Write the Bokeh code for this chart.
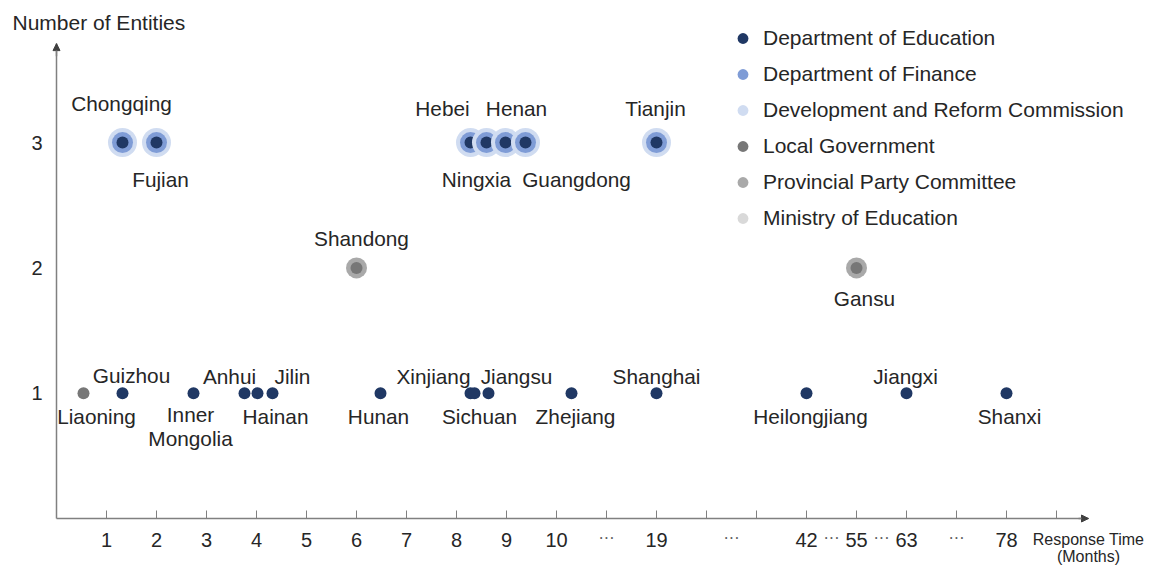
from bokeh.plotting import figure
from bokeh.models import (ColumnDataSource, FixedTicker, Label, LabelSet, Arrow,
                          NormalHead, Legend, LegendItem, Range1d)
from bokeh.core.properties import value
from bokeh.embed import file_html
from bokeh.resources import INLINE

# ---------------- data ----------------
provinces = ["Liaoning", "Guizhou", "Inner\nMongolia", "Anhui", "Hainan", "Jilin",
             "Hunan", "Xinjiang", "Sichuan", "Jiangsu", "Zhejiang", "Shanghai",
             "Heilongjiang", "Jiangxi", "Shanxi",
             "Chongqing", "Fujian", "Hebei", "Ningxia", "Henan", "Guangdong", "Tianjin",
             "Shandong", "Gansu"]
# position on the (broken) response-time axis
axis_pos = [0.54, 1.32, 2.74, 3.76, 4.02, 4.32, 6.48, 8.28, 8.36, 8.64, 10.3, 12, 15, 17, 19,
            1.32, 2.0, 8.28, 8.6, 8.98, 9.38, 12,
            6.0, 16]
entities = [1] * 15 + [3] * 7 + [2, 2]
EDU, FIN, DRC = "Department of Education", "Department of Finance", "Development and Reform Commission"
LOC, PPC, MOE = "Local Government", "Provincial Party Committee", "Ministry of Education"
agencies = ([[LOC]] + [[EDU]] * 14 + [[EDU, FIN, DRC]] * 7 + [[LOC, PPC]] * 2)

legend_names = [EDU, FIN, DRC, LOC, PPC, MOE]
tick_positions = list(range(1, 21))
tick_labels = ["1", "2", "3", "4", "5", "6", "7", "8", "9", "10",
               "", "19", "", "", "42", "55", "63", "", "78", ""]
ellipsis_pos = [11, 13.5, 15.5, 16.5, 18]

# ---------------- style / layout ----------------
agency_colors = {EDU: "#203864", FIN: "#7f9cd6", DRC: "#d0dcf1",
                 LOC: "#777777", PPC: "#a9a9a9", MOE: "#d9d9d9"}
ring_sizes = [12, 21, 29]
label_dx = [13, 9, -3, -15, 18, 20, -2, -37, 5, 28, 4, 0, 4, -1, 3,
            -1, 4, -28, -10, 11, 51, -1, 5, 8]
label_dy = [23, -18, 33, -17, 23, -17, 23, -17, 23, -17, 23, -17, 23, -17, 23,
            -39, 37, -34, 37, -34, 37, -34, -29, 31]
FONT = "Liberation Sans"
TXT = "#262626"
AX = "#808080"
W, H = 1151, 565
X0, XS = 56.0, 50.0      # pixel of x=0, pixels per unit
Y0, YS = 518.0, 125.3    # pixel of y=0, pixels per unit
X_END, Y_END = 20.64, 3.79

p = figure(width=W, height=H, output_backend="svg", toolbar_location=None, title=None,
           x_range=Range1d(-X0 / XS, (W - X0) / XS),
           y_range=Range1d(-(H - Y0) / YS, Y0 / YS),
           min_border=0, min_border_left=0, min_border_right=0,
           min_border_top=0, min_border_bottom=0)
p.outline_line_color = None
p.xgrid.visible = False
p.ygrid.visible = False
p.background_fill_color = "white"

# axes (drawn at the data origin)
p.xaxis.fixed_location = 0
p.yaxis.fixed_location = 0
p.xaxis.bounds = (0, X_END)
p.yaxis.bounds = (0, Y_END)
p.xaxis.ticker = FixedTicker(ticks=tick_positions)
p.xaxis.major_label_overrides = {t: l for t, l in zip(tick_positions, tick_labels)}
p.xaxis.major_tick_in = 8
p.xaxis.major_tick_out = 0
p.xaxis.minor_tick_line_color = None
p.xaxis.major_tick_line_color = AX
p.xaxis.axis_line_color = AX
p.xaxis.axis_line_width = 1.5
p.xaxis.major_label_standoff = 14
p.yaxis.ticker = FixedTicker(ticks=[1, 2, 3])
p.yaxis.major_tick_in = 0
p.yaxis.major_tick_out = 0
p.yaxis.minor_tick_line_color = None
p.yaxis.axis_line_color = AX
p.yaxis.axis_line_width = 1.5
p.yaxis.major_label_standoff = 14
for ax in (p.xaxis, p.yaxis):
    ax.major_label_text_font = FONT
    ax.major_label_text_font_size = "20px"
    ax.major_label_text_color = TXT

# arrows on axes
p.add_layout(Arrow(end=NormalHead(size=7, fill_color="#404040", line_color="#404040"),
                   x_start=X_END - 0.2, y_start=0, x_end=X_END, y_end=0,
                   line_color=AX, line_width=1.5))
p.add_layout(Arrow(end=NormalHead(size=7, fill_color="#404040", line_color="#404040"),
                   x_start=0, y_start=Y_END - 0.1, x_end=0, y_end=Y_END,
                   line_color=AX, line_width=1.5))

# stacked circles (drawn point by point, outer ring first)
xs, ys, sz, cl = [], [], [], []
for x, y, ags in zip(axis_pos, entities, agencies):
    for lvl in reversed(range(len(ags))):
        xs.append(x)
        ys.append(y)
        sz.append(ring_sizes[lvl])
        cl.append(agency_colors[ags[lvl]])
dot_src = ColumnDataSource(dict(x=xs, y=ys, size=sz, color=cl))
p.scatter(x="x", y="y", size="size", fill_color="color", line_color=None, source=dot_src)

# province labels
lab_src = ColumnDataSource(dict(x=axis_pos, y=entities, text=provinces, dx=label_dx, dy=label_dy))
p.text(x="x", y="y", text="text", x_offset="dx", y_offset="dy", source=lab_src,
       text_align="center", text_baseline="middle", text_font=value(FONT),
       text_font_size="20.8px", text_color=TXT, text_line_height=1.05)

# ellipses on the broken axis
ell_src = ColumnDataSource(dict(x=ellipsis_pos, y=[-0.16] * len(ellipsis_pos),
                                text=["\u00b7\u00b7\u00b7"] * len(ellipsis_pos)))
p.add_layout(LabelSet(x="x", y="y", text="text", source=ell_src, text_align="center",
                      text_baseline="middle", text_font=FONT, text_font_size="16px",
                      text_color="#595959"))

# axis titles
p.add_layout(Label(x=(12 - X0) / XS, y=(Y0 - 22) / YS, text="Number of Entities",
                   text_align="left", text_baseline="middle", text_font=FONT,
                   text_font_size="21px", text_color=TXT))
p.add_layout(Label(x=(1088 - X0) / XS, y=(Y0 - 539) / YS, text="Response Time",
                   text_align="center", text_baseline="middle", text_font=FONT,
                   text_font_size="16px", text_color=TXT))
p.add_layout(Label(x=(1088 - X0) / XS, y=(Y0 - 556) / YS, text="(Months)",
                   text_align="center", text_baseline="middle", text_font=FONT,
                   text_font_size="16px", text_color=TXT))

# legend
items = []
for name in legend_names:
    r = p.scatter(x=[float("nan")], y=[float("nan")], size=10,
                  fill_color=agency_colors[name], line_color=None)
    items.append(LegendItem(label=name, renderers=[r]))
legend = Legend(items=items, location=(729, H - 236), glyph_width=27, glyph_height=36,
                spacing=0, padding=0, margin=0, label_standoff=7,
                label_text_font=FONT, label_text_font_size="21px", label_text_color=TXT,
                border_line_alpha=0, background_fill_alpha=0)
p.add_layout(legend)

open("out.html", "w").write(file_html(p, INLINE))
